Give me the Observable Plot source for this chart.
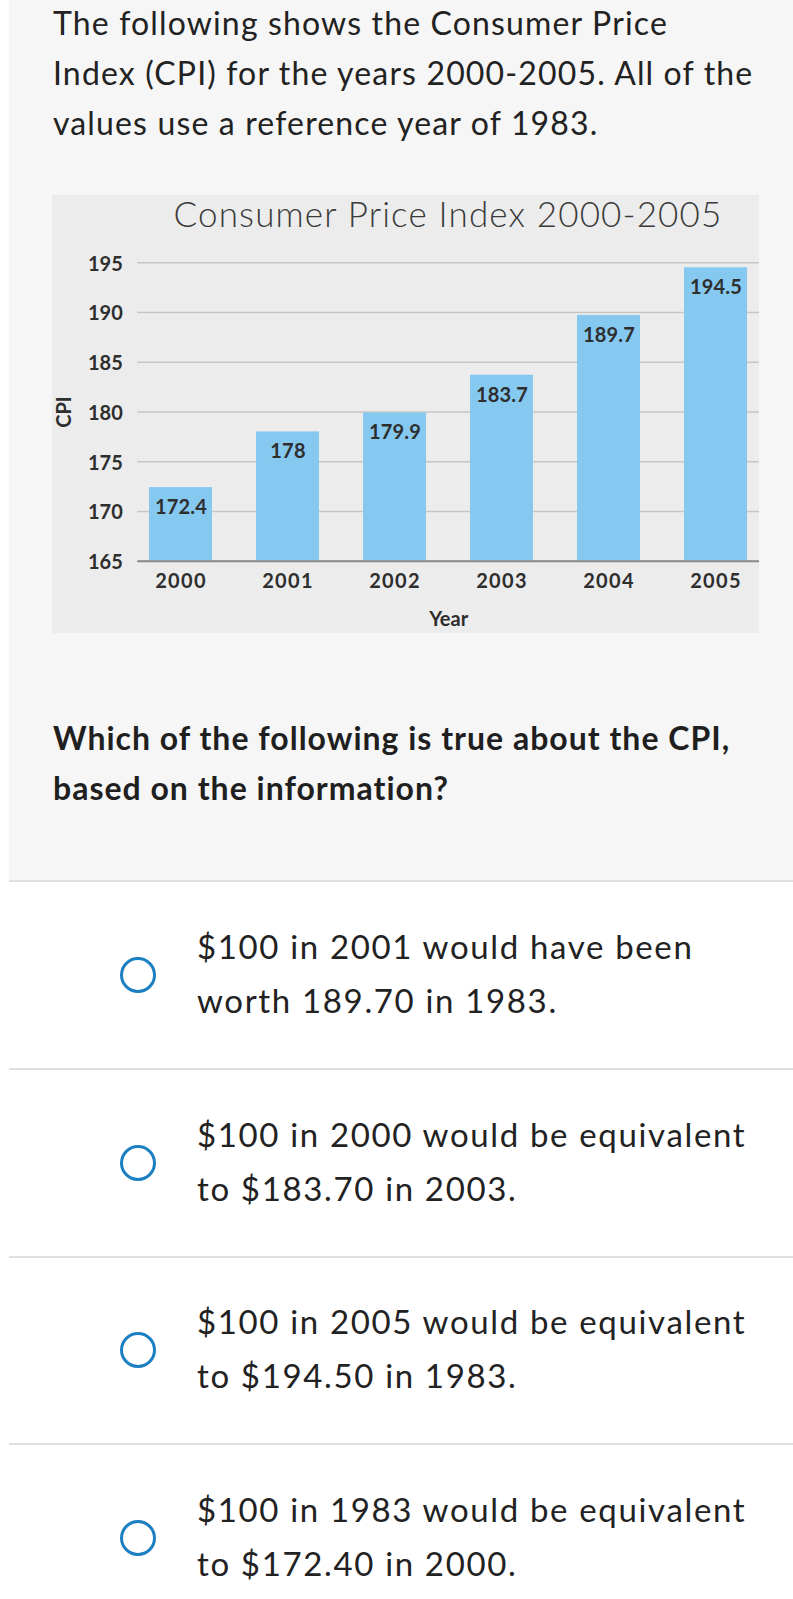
<!DOCTYPE html>
<html><head><meta charset="utf-8">
<script src="https://cdn.jsdelivr.net/npm/d3@7"></script>
<script src="https://cdn.jsdelivr.net/npm/@observablehq/plot@0.6"></script>
<style>
html,body{margin:0;padding:0;background:#fff;}
body{width:793px;height:1599px;position:relative;overflow:hidden;font-family:Lato,"Open Sans",sans-serif;color:#222;}
#top{position:absolute;left:9px;top:0;width:784px;height:880px;background:#f6f6f6;border-bottom:2px solid #dedede;}
.para{position:absolute;left:53px;font-size:32px;line-height:50px;white-space:nowrap;}
#intro{top:-2px;font-weight:400;letter-spacing:1.15px;}
#question{top:713px;font-weight:700;color:#1f1f1f;letter-spacing:1px;}
#panel{position:absolute;left:52px;top:195px;width:707px;height:438px;background:#ececec;}
#ctitle{position:absolute;left:85px;top:1px;width:622px;text-align:center;font-size:35px;line-height:35px;font-weight:300;color:#3a3a3a;white-space:nowrap;letter-spacing:1.15px;}
#chart{position:absolute;left:0;top:45px;}
#chart g[aria-label="x-axis tick label"] text{letter-spacing:1.3px;}
#chart g[aria-label="text"] text{letter-spacing:0.2px;}
.sep{position:absolute;left:9px;width:784px;height:2px;background:#dedede;}
.radio{position:absolute;left:120px;width:30px;height:30px;border:3px solid #1b7fc2;border-radius:50%;box-sizing:content-box;}
.opt{position:absolute;left:197px;font-size:33px;line-height:54px;white-space:nowrap;color:#222;letter-spacing:1.65px;}
</style></head><body>
<div id="top">
</div>
<div class="para" id="intro">The following shows the Consumer Price<br>Index (CPI) for the years 2000-2005. All of the<br>values use a reference year of 1983.</div>
<div id="panel"><div id="ctitle">Consumer Price Index 2000-2005</div><div id="chart"></div></div>
<div class="para" id="question">Which of the following is true about the CPI,<br>based on the information?</div>
<div id="options"></div>
<script>
const years = ["2000", "2001", "2002", "2003", "2004", "2005"];
const cpi = [172.4, 178, 179.9, 183.7, 189.7, 194.5];
const yTicks = [165, 170, 175, 180, 185, 190, 195];
const yBase = 165;
const yTop = 195;
const chartTitle = "Consumer Price Index 2000-2005";
const xLabel = "Year";
const yLabel = "CPI";
const optionLines = [
  ["$100 in 2001 would have been", "worth 189.70 in 1983."],
  ["$100 in 2000 would be equivalent", "to $183.70 in 2003."],
  ["$100 in 2005 would be equivalent", "to $194.50 in 1983."],
  ["$100 in 1983 would be equivalent", "to $172.40 in 2000."]
];

const data = years.map((y, i) => ({year: y, cpi: cpi[i]}));

const plot = Plot.plot({
  width: 707,
  height: 393,
  marginTop: 22.3,
  marginBottom: 72.3,
  marginLeft: 85.3,
  marginRight: 0,
  style: {fontFamily: "Lato, sans-serif", fontSize: "20px", fontWeight: 700, color: "#2e2e2e", background: "transparent", overflow: "visible"},
  x: {domain: years, paddingInner: 0.41, paddingOuter: 0.107},
  y: {domain: [yBase, yTop]},
  marks: [
    Plot.gridY(yTicks, {stroke: "#c6c6c6", strokeOpacity: 1, strokeWidth: 1.5}),
    Plot.barY(data, {x: "year", y1: yBase, y2: "cpi", fill: "#85c8f0"}),
    Plot.ruleY([yBase], {stroke: "#8a8a8a", strokeWidth: 2}),
    Plot.text(data, {x: "year", y: "cpi", text: d => String(d.cpi), dy: 20, fill: "#2e2e2e", fontWeight: 700, fontSize: 20}),
    Plot.axisY(yTicks, {tickSize: 0, tickPadding: 15, fontSize: 20, fontWeight: 700, label: yLabel, labelAnchor: "center", labelOffset: 81, labelArrow: "none", dy: 1.5}),
    Plot.axisX({tickSize: 0, tickPadding: 12.6, fontSize: 20, fontWeight: 700, label: xLabel, labelAnchor: "center", labelOffset: 64.3, labelArrow: "none"})
  ]
});
document.getElementById("chart").appendChild(plot);
document.getElementById("ctitle").textContent = chartTitle;

const opts = document.getElementById("options");
optionLines.forEach((lines, k) => {
  const off = 187.5 * k;
  if (k > 0) {
    const s = document.createElement("div");
    s.className = "sep";
    s.style.top = (1068 + 187.5 * (k - 1)) + "px";
    opts.appendChild(s);
  }
  const r = document.createElement("div");
  r.className = "radio";
  r.style.top = (957 + off) + "px";
  opts.appendChild(r);
  const t = document.createElement("div");
  t.className = "opt";
  t.style.top = (919 + off) + "px";
  t.innerHTML = lines.join("<br>");
  opts.appendChild(t);
});
</script>
</body></html>
